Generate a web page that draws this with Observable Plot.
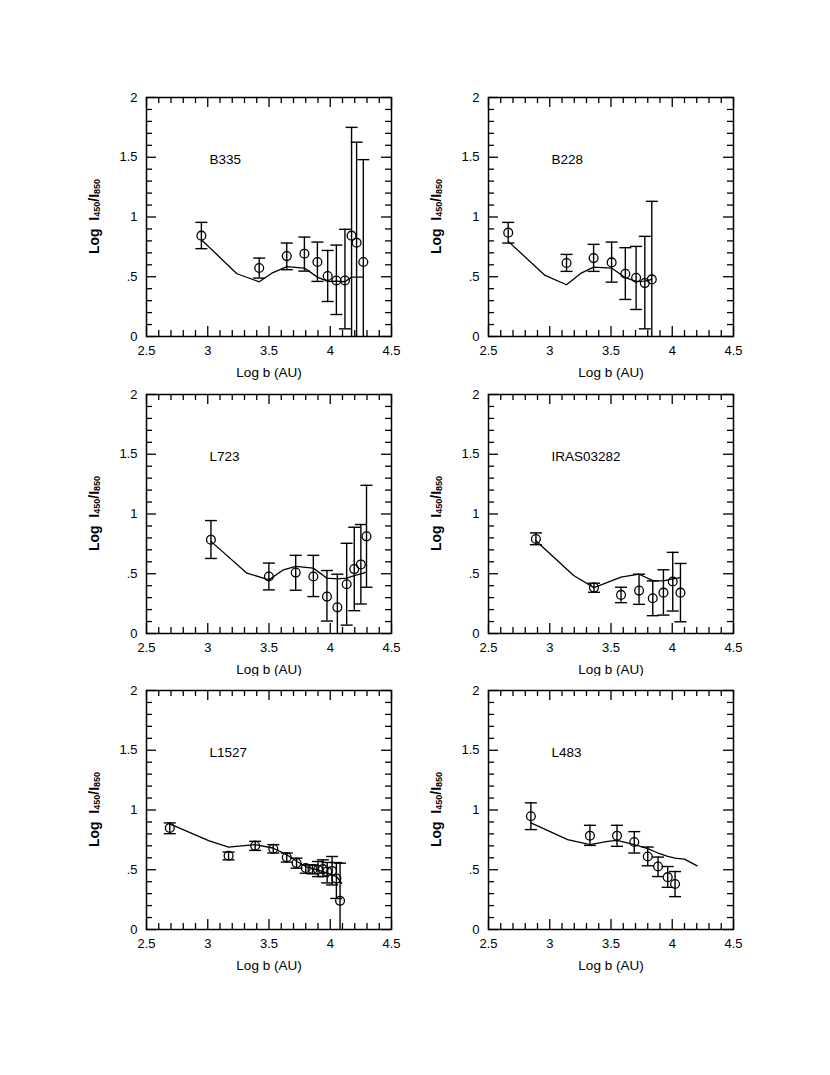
<!DOCTYPE html>
<html>
<head>
<meta charset="utf-8">
<script src="https://cdn.jsdelivr.net/npm/d3@7"></script>
<script src="https://cdn.jsdelivr.net/npm/@observablehq/plot@0.6"></script>
<style>
  body { margin: 0; background: #fff; }
  #wrap { position: relative; width: 830px; height: 1075px; background: #fff; }
  .panel { position: absolute; }
</style>
</head>
<body>
<div id="wrap"></div>
<script>
// ---------- axis ticks ----------
const xMajor = [2.5, 3, 3.5, 4, 4.5];
const xTickLabels = ["2.5", "3", "3.5", "4", "4.5"];
const xMinor = [2.6, 2.7, 2.8, 2.9, 3.1, 3.2, 3.3, 3.4, 3.6, 3.7, 3.8, 3.9, 4.1, 4.2, 4.3, 4.4];
const yMajor = [0, 0.5, 1, 1.5, 2];
const yTickLabels = ["0", ".5", "1", "1.5", "2"];
const yMinor = [0.1, 0.2, 0.3, 0.4, 0.6, 0.7, 0.8, 0.9, 1.1, 1.2, 1.3, 1.4, 1.6, 1.7, 1.8, 1.9];
const xLabel = "Log b (AU)";

// ---------- B335 ----------
const b335X  = [2.948, 3.42, 3.645, 3.789, 3.895, 3.979, 4.05, 4.12, 4.174, 4.215, 4.27];
const b335Y  = [0.844, 0.573, 0.673, 0.693, 0.623, 0.506, 0.469, 0.469, 0.844, 0.785, 0.623];
const b335Hi = [0.955, 0.656, 0.782, 0.832, 0.79, 0.72, 0.765, 0.897, 1.75, 1.626, 1.48];
const b335Lo = [0.735, 0.489, 0.559, 0.547, 0.461, 0.293, 0.184, 0.064, -0.06, -0.06, -0.23];
const b335ModelX = [2.948, 3.238, 3.42, 3.523, 3.645, 3.789, 3.895, 3.979, 4.05, 4.12, 4.174, 4.27];
const b335ModelY = [0.81, 0.525, 0.458, 0.53, 0.585, 0.573, 0.497, 0.461, 0.464, 0.458, 0.497, 0.497];

// ---------- B228 ----------
const b228X  = [2.661, 3.137, 3.358, 3.505, 3.617, 3.705, 3.776, 3.833];
const b228Y  = [0.869, 0.615, 0.656, 0.62, 0.525, 0.492, 0.447, 0.478];
const b228Hi = [0.955, 0.687, 0.771, 0.79, 0.743, 0.754, 0.838, 1.131];
const b228Lo = [0.782, 0.545, 0.545, 0.455, 0.31, 0.226, 0.064, -0.17];
const b228ModelX = [2.661, 2.962, 3.137, 3.257, 3.358, 3.505, 3.617, 3.705, 3.776, 3.833];
const b228ModelY = [0.796, 0.511, 0.433, 0.531, 0.581, 0.573, 0.492, 0.461, 0.464, 0.478];

// ---------- L723 ----------
const l723X  = [3.026, 3.499, 3.718, 3.862, 3.973, 4.058, 4.134, 4.196, 4.25, 4.296];
const l723Y  = [0.785, 0.477, 0.51, 0.477, 0.309, 0.219, 0.412, 0.539, 0.578, 0.813];
const l723Hi = [0.945, 0.589, 0.654, 0.654, 0.527, 0.496, 0.755, 0.889, 0.912, 1.24];
const l723Lo = [0.628, 0.365, 0.362, 0.309, 0.104, -0.06, 0.07, 0.191, 0.247, 0.387];
const l723ModelX = [3.026, 3.32, 3.499, 3.618, 3.718, 3.862, 3.973, 4.058, 4.134, 4.196, 4.25, 4.296];
const l723ModelY = [0.771, 0.505, 0.449, 0.533, 0.562, 0.547, 0.463, 0.457, 0.463, 0.485, 0.499, 0.513];

// ---------- IRAS03282 ----------
const irasX  = [2.887, 3.361, 3.582, 3.729, 3.841, 3.928, 4.004, 4.067];
const irasY  = [0.791, 0.384, 0.323, 0.359, 0.295, 0.342, 0.435, 0.342];
const irasHi = [0.842, 0.421, 0.387, 0.496, 0.44, 0.533, 0.679, 0.586];
const irasLo = [0.743, 0.345, 0.258, 0.244, 0.149, 0.154, 0.188, 0.098];
const irasModelX = [2.887, 3.195, 3.361, 3.582, 3.729, 3.841, 3.928, 4.004, 4.067];
const irasModelY = [0.777, 0.485, 0.384, 0.471, 0.496, 0.443, 0.44, 0.457, 0.468];

// ---------- L1527 ----------
const l1527X  = [2.69, 3.17, 3.387, 3.535, 3.645, 3.725, 3.80, 3.855, 3.90, 3.94, 3.975, 4.015, 4.05, 4.08];
const l1527Y  = [0.85, 0.617, 0.701, 0.676, 0.605, 0.556, 0.515, 0.505, 0.50, 0.505, 0.485, 0.49, 0.426, 0.24];
const l1527Hi = [0.892, 0.648, 0.738, 0.71, 0.64, 0.597, 0.541, 0.541, 0.569, 0.583, 0.561, 0.611, 0.56, 0.555];
const l1527Lo = [0.802, 0.583, 0.662, 0.64, 0.564, 0.513, 0.471, 0.466, 0.443, 0.443, 0.39, 0.373, 0.26, -0.08];
const l1527ModelX = [2.69, 3.007, 3.17, 3.387, 3.531, 3.645, 3.729, 3.8, 3.897, 3.976, 4.052, 4.093];
const l1527ModelY = [0.884, 0.743, 0.69, 0.71, 0.682, 0.626, 0.569, 0.527, 0.499, 0.471, 0.443, 0.387];

// ---------- L483 ----------
const l483X  = [2.846, 3.328, 3.549, 3.69, 3.8, 3.884, 3.963, 4.023];
const l483Y  = [0.948, 0.785, 0.785, 0.732, 0.611, 0.527, 0.438, 0.381];
const l483Hi = [1.06, 0.872, 0.872, 0.819, 0.69, 0.606, 0.527, 0.485];
const l483Lo = [0.836, 0.704, 0.696, 0.64, 0.533, 0.443, 0.353, 0.275];
const l483ModelX = [2.846, 3.146, 3.328, 3.473, 3.549, 3.69, 3.8, 3.884, 3.963, 4.023, 4.1, 4.203];
const l483ModelY = [0.892, 0.752, 0.71, 0.738, 0.746, 0.71, 0.676, 0.64, 0.611, 0.597, 0.589, 0.533];

const panels = [
  {name: "B335", x: b335X, y: b335Y, hi: b335Hi, lo: b335Lo, mx: b335ModelX, my: b335ModelY, col: 0, row: 0},
  {name: "B228", x: b228X, y: b228Y, hi: b228Hi, lo: b228Lo, mx: b228ModelX, my: b228ModelY, col: 1, row: 0},
  {name: "L723", x: l723X, y: l723Y, hi: l723Hi, lo: l723Lo, mx: l723ModelX, my: l723ModelY, col: 0, row: 1},
  {name: "IRAS03282", x: irasX, y: irasY, hi: irasHi, lo: irasLo, mx: irasModelX, my: irasModelY, col: 1, row: 1},
  {name: "L1527", x: l1527X, y: l1527Y, hi: l1527Hi, lo: l1527Lo, mx: l1527ModelX, my: l1527ModelY, col: 0, row: 2},
  {name: "L483", x: l483X, y: l483Y, hi: l483Hi, lo: l483Lo, mx: l483ModelX, my: l483ModelY, col: 1, row: 2}
];

// layout (frame positions in page px)
const frameLefts = [146, 487.5];
const frameTops = [96.5, 393.5, 689.5];
const W = 245, H = 239;
const mL = 70, mR = 14, mT = 14, mB = 52;
const FONT = "'Liberation Sans', Arial, Helvetica, sans-serif";

const capSymbol = {
  draw(context) { context.moveTo(-6, 0); context.lineTo(6, 0); }
};

const wrap = document.getElementById("wrap");

for (const p of panels) {
  const pts = p.x.map((x, i) => ({x, y: p.y[i], lo: p.lo[i], hi: p.hi[i]}));
  const model = p.mx.map((x, i) => ({x, y: p.my[i]}));
  const chart = Plot.plot({
    width: mL + W + mR,
    height: mT + H + mB,
    marginLeft: mL, marginRight: mR, marginTop: mT, marginBottom: mB,
    style: {fontFamily: FONT, fontSize: "13px", background: "white", color: "black", overflow: "visible"},
    x: {domain: [2.5, 4.5]},
    y: {domain: [0, 2]},
    marks: [
      // inward ticks on all four sides
      Plot.tickX(xMajor, {x: d => d, insetTop: H - 10, stroke: "black", strokeWidth: 1.3}),
      Plot.tickX(xMajor, {x: d => d, insetBottom: H - 10, stroke: "black", strokeWidth: 1.3}),
      Plot.tickX(xMinor, {x: d => d, insetTop: H - 6, stroke: "black", strokeWidth: 1.3}),
      Plot.tickX(xMinor, {x: d => d, insetBottom: H - 6, stroke: "black", strokeWidth: 1.3}),
      Plot.tickY(yMajor, {y: d => d, insetRight: W - 10, stroke: "black", strokeWidth: 1.3}),
      Plot.tickY(yMajor, {y: d => d, insetLeft: W - 10, stroke: "black", strokeWidth: 1.3}),
      Plot.tickY(yMinor, {y: d => d, insetRight: W - 6, stroke: "black", strokeWidth: 1.3}),
      Plot.tickY(yMinor, {y: d => d, insetLeft: W - 6, stroke: "black", strokeWidth: 1.3}),
      Plot.frame({stroke: "black", strokeWidth: 1.5}),
      Plot.axisX({ticks: xMajor, tickSize: 0, tickPadding: 9, tickFormat: d => xTickLabels[xMajor.indexOf(d)], label: null, fontSize: 13}),
      Plot.axisY({ticks: yMajor, tickSize: 0, tickPadding: 9, tickFormat: d => yTickLabels[yMajor.indexOf(d)], label: null, fontSize: 13}),
      Plot.text([xLabel], {frameAnchor: "bottom", dy: 36, lineAnchor: "middle", fontSize: 13.5, fill: "black"}),
      Plot.text([p.name], {frameAnchor: "top-left", dx: 63, dy: 62, textAnchor: "start", lineAnchor: "middle", fontSize: 13.5, fill: "black"}),
      // model curve
      Plot.line(model, {x: "x", y: "y", stroke: "black", strokeWidth: 1.3, clip: true}),
      // error bars
      Plot.ruleX(pts, {x: "x", y1: "lo", y2: "hi", stroke: "black", strokeWidth: 1.4, clip: true}),
      Plot.dot(pts, {x: "x", y: "hi", symbol: capSymbol, fill: "none", stroke: "black", strokeWidth: 1.4, clip: true}),
      Plot.dot(pts, {x: "x", y: "lo", symbol: capSymbol, fill: "none", stroke: "black", strokeWidth: 1.4, clip: true}),
      // data points
      Plot.dot(pts, {x: "x", y: "y", r: 4.4, fill: "none", stroke: "black", strokeWidth: 1.3})
    ]
  });

  // rotated y-axis label with subscripts
  const svg = d3.select(chart);
  const t = svg.append("text")
    .attr("transform", `translate(${mL - 51},${mT + H / 2}) rotate(-90)`)
    .attr("text-anchor", "middle")
    .attr("dominant-baseline", "middle")
    .attr("font-family", FONT)
    .attr("font-weight", "bold")
    .attr("font-size", 14)
    .attr("fill", "black");
  t.append("tspan").text("Log  I");
  t.append("tspan").attr("font-size", 9).attr("dy", 3).text("450");
  t.append("tspan").attr("dy", -3).text("/I");
  t.append("tspan").attr("font-size", 9).attr("dy", 3).text("850");

  const div = document.createElement("div");
  div.className = "panel";
  div.style.left = (frameLefts[p.col] - mL) + "px";
  div.style.top = (frameTops[p.row] - mT) + "px";
  div.appendChild(chart);
  wrap.appendChild(div);
}
</script>
</body>
</html>
